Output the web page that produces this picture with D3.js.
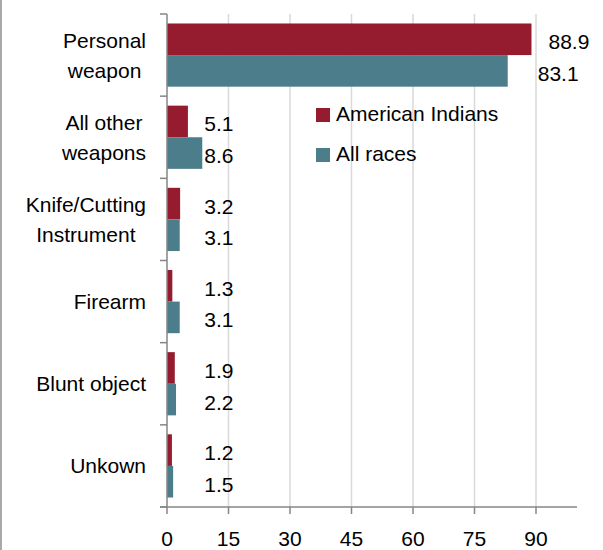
<!DOCTYPE html>
<html>
<head>
<meta charset="utf-8">
<script src="https://cdn.jsdelivr.net/npm/d3@7"></script>
<style>
  body { margin: 0; background: #fff; }
  svg { display: block; font-family: "Liberation Sans", Arial, sans-serif; }
</style>
</head>
<body>
<div id="chart"></div>
<script>
// datos
const categories = ["Personal weapon", "All other weapons", "Knife/Cutting Instrument", "Firearm", "Blunt object", "Unkown"];
const categoryLines = [["Personal", "weapon"], ["All other", "weapons"], ["Knife/Cutting", "Instrument"], ["Firearm"], ["Blunt object"], ["Unkown"]];
const seriesNames = ["American Indians", "All races"];
const americanIndians = [88.9, 5.1, 3.2, 1.3, 1.9, 1.2];
const allRaces = [83.1, 8.6, 3.1, 3.1, 2.2, 1.5];
const xTicks = [0, 15, 30, 45, 60, 75, 90];

const colors = ["#951b2e", "#4b7d8b"];
const width = 603, height = 550;
const fontSize = 21;

const svg = d3.select("#chart").append("svg")
    .attr("width", width)
    .attr("height", height);

svg.append("rect").attr("width", width).attr("height", height).attr("fill", "#fff");

// borde izquierdo del área del gráfico
svg.append("line")
    .attr("x1", 1).attr("x2", 1)
    .attr("y1", 0).attr("y2", height)
    .attr("stroke", "#8c8c8c").attr("stroke-width", 1.5);

const x = d3.scaleLinear().domain([0, 100]).range([167, 577]);
const y = d3.scaleBand().domain(categories).range([14, 507]);
const ySub = d3.scaleBand().domain(seriesNames).range([0, y.bandwidth()]).paddingInner(0).paddingOuter(0.3);

const rows = categories.map((c, i) => ({
    cat: c,
    lines: categoryLines[i],
    values: [americanIndians[i], allRaces[i]]
}));

// líneas de cuadrícula
svg.append("g").selectAll("line")
    .data(xTicks.filter(t => t > 0))
    .enter().append("line")
    .attr("x1", d => x(d)).attr("x2", d => x(d))
    .attr("y1", y.range()[0]).attr("y2", y.range()[1])
    .attr("stroke", "#d9d9d9")
    .attr("stroke-width", 1.5);

// barras
const groups = svg.append("g").selectAll("g")
    .data(rows)
    .enter().append("g")
    .attr("transform", d => `translate(0,${y(d.cat)})`);

groups.selectAll("rect")
    .data(d => d.values.map((v, j) => ({ v, s: seriesNames[j], j })))
    .enter().append("rect")
    .attr("x", x(0))
    .attr("y", d => ySub(d.s))
    .attr("width", d => x(d.v) - x(0))
    .attr("height", ySub.bandwidth())
    .attr("fill", d => colors[d.j]);

// etiquetas de datos: las pequeñas alineadas tras la barra pequeña más larga
const allVals = americanIndians.concat(allRaces);
const smallMax = d3.max(allVals.filter(v => v < 10));
const labelDx = [17, 30];
groups.selectAll("text")
    .data(d => d.values.map((v, j) => ({ v, s: seriesNames[j], j })))
    .enter().append("text")
    .attr("x", d => d.v < 10 ? x(smallMax) + 2 : x(d.v) + labelDx[d.j])
    .attr("y", d => ySub(d.s) + ySub.bandwidth() / 2 + 2.5)
    .attr("dominant-baseline", "central")
    .attr("font-size", fontSize)
    .attr("fill", "#000")
    .text(d => d.v.toFixed(1));

// eje Y
const yAxis = svg.append("g");
yAxis.append("line")
    .attr("x1", x(0)).attr("x2", x(0))
    .attr("y1", y.range()[0]).attr("y2", y.range()[1])
    .attr("stroke", "#868686").attr("stroke-width", 1.5);
const bounds = categories.map(c => y(c)).concat([y.range()[1]]);
yAxis.selectAll("line.tick")
    .data(bounds)
    .enter().append("line")
    .attr("class", "tick")
    .attr("x1", x(0) - 7).attr("x2", x(0))
    .attr("y1", d => d).attr("y2", d => d)
    .attr("stroke", "#868686").attr("stroke-width", 1.5);

// etiquetas de categoría (bloque alineado a la derecha, líneas centradas)
const lineH = 30;
const labelRight = x(0) - 21;
rows.forEach(r => {
    const cy = y(r.cat) + y.bandwidth() / 2;
    const t = svg.append("text")
        .attr("font-size", fontSize)
        .attr("fill", "#000")
        .attr("text-anchor", "middle");
    const spans = r.lines.map((ln, k) => t.append("tspan")
        .attr("y", cy + (k - (r.lines.length - 1) / 2) * lineH)
        .attr("dominant-baseline", "central")
        .text(ln));
    const w = d3.max(spans, s => s.node().getComputedTextLength());
    spans.forEach(s => s.attr("x", labelRight - w / 2));
});

// eje X
const xAxis = svg.append("g").attr("transform", `translate(0,${y.range()[1]})`);
xAxis.append("line")
    .attr("x1", x(0) - 7).attr("x2", x.range()[1])
    .attr("stroke", "#868686").attr("stroke-width", 1.5);
xAxis.selectAll("line.tick")
    .data(xTicks)
    .enter().append("line")
    .attr("class", "tick")
    .attr("x1", d => x(d)).attr("x2", d => x(d))
    .attr("y1", 0).attr("y2", 7)
    .attr("stroke", "#868686").attr("stroke-width", 1.5);
xAxis.selectAll("text")
    .data(xTicks)
    .enter().append("text")
    .attr("x", d => x(d))
    .attr("y", 39)
    .attr("text-anchor", "middle")
    .attr("font-size", fontSize)
    .attr("fill", "#000")
    .text(d => d);

// leyenda
const legend = svg.append("g").selectAll("g")
    .data(seriesNames)
    .enter().append("g")
    .attr("transform", (d, i) => `translate(316,${108 + i * 40})`);
legend.append("rect")
    .attr("width", 14).attr("height", 14)
    .attr("fill", (d, i) => colors[i]);
legend.append("text")
    .attr("x", 20)
    .attr("y", 13)
    .attr("font-size", fontSize)
    .attr("fill", "#000")
    .text(d => d);
</script>
</body>
</html>
